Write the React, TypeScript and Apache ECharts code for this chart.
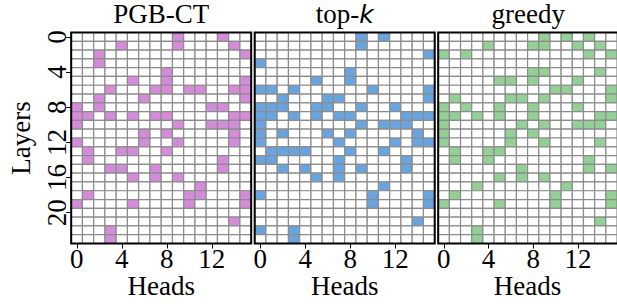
import React, { useEffect, useRef } from "react";
import * as echarts from "echarts";

// ---------- data ----------
const heads = ["0","1","2","3","4","5","6","7","8","9","10","11","12","13","14","15"];
const layers = ["0","1","2","3","4","5","6","7","8","9","10","11","12","13","14","15","16","17","18","19","20","21","22","23"];
const panelTitles = ["PGB-CT", "top-k", "greedy"];
const xAxisName = "Heads";
const yAxisName = "Layers";

// selected heads for each layer (index = layer)
const pgbctSelected: number[][] = [
  [9, 13],
  [4, 9, 14],
  [2, 15],
  [2],
  [8],
  [5, 8, 15],
  [3, 7, 8, 10, 11, 14, 15],
  [2, 6, 15],
  [0, 2, 12, 13],
  [0, 1, 3, 5, 7, 8, 14, 15],
  [0, 9, 12, 13, 14],
  [6, 8, 14],
  [0, 6, 9, 14],
  [1, 4, 5, 8],
  [1, 13],
  [3, 4, 7, 13],
  [5, 7, 9],
  [11],
  [1, 10, 11, 15],
  [0, 5, 10, 15],
  [],
  [14],
  [3],
  [3],
];

const topkSelected: number[][] = [
  [9, 11],
  [9],
  [15],
  [0],
  [8],
  [5, 8],
  [0, 1, 3, 10, 15],
  [2, 6, 7, 15],
  [0, 1, 2, 5, 6, 9, 12],
  [0, 1, 3, 5, 7, 8, 13, 14, 15],
  [0, 9, 11, 12, 13],
  [0, 2, 6, 8, 14],
  [0, 7, 12, 14, 15],
  [1, 2, 3, 4, 8, 11],
  [0, 1, 7, 13],
  [2, 4, 7, 9, 13],
  [5, 7],
  [11],
  [0, 10, 15],
  [10, 15],
  [],
  [14],
  [0, 3],
  [3],
];

const greedySelected: number[][] = [
  [9, 11, 13],
  [4, 8, 9, 12, 14],
  [0, 2, 13, 15],
  [],
  [8, 9, 14],
  [5, 6, 8, 12],
  [10, 11, 15],
  [1, 6, 7, 9, 15],
  [0, 2, 5, 8, 12],
  [0, 1, 3, 5, 8, 14, 15],
  [0, 7, 9, 12, 13, 14],
  [0, 6, 8],
  [0, 6, 9, 14],
  [1, 4, 5],
  [1, 4, 13],
  [7, 13, 15],
  [5, 7, 9],
  [3, 11],
  [1, 10, 15],
  [0, 5, 10, 15],
  [],
  [14],
  [3],
  [3],
];

const panels = [pgbctSelected, topkSelected, greedySelected];
const panelColors = ["#D48BDA", "#67A4E0", "#93D096"];

// ---------- layout / style ----------
const FONT = "Liberation Serif";
const FS = 27;
const TITLE_FS = 27;
const PANEL_TOP = 32.5;
const PANEL_H = 211;
const PANEL_W = 180;
const PANEL_LEFTS = [71.2, 254.7, 438.2];

function buildCells(sel: number[][]) {
  const out: number[][] = [];
  layers.forEach((_, l) => {
    heads.forEach((_, h) => {
      out.push([h, l, sel[l].includes(h) ? 1 : 0]);
    });
  });
  return out;
}

const App = () => {
  const ref = useRef<HTMLDivElement>(null);
  useEffect(() => {
    const chart = echarts.init(ref.current!, null, { renderer: "svg" });

    const grid = PANEL_LEFTS.map((left) => ({
      left,
      top: PANEL_TOP,
      width: PANEL_W,
      height: PANEL_H,
      containLabel: false,
    }));

    const xAxis = PANEL_LEFTS.map((_, i) => ({
      type: "category",
      gridIndex: i,
      data: heads,
      position: "bottom",
      boundaryGap: true,
      axisLine: { show: false },
      axisTick: {
        show: true,
        interval: 3,
        alignWithLabel: true,
        length: 5,
        lineStyle: { color: "#000", width: 1 },
      },
      axisLabel: {
        show: true,
        interval: 3,
        margin: 5.5,
        fontSize: FS,
        lineHeight: 20,
        fontFamily: FONT,
        color: "#000",
      },
      splitLine: { show: false },
      name: xAxisName,
      nameLocation: "middle",
      nameMoveOverlap: false,
      nameGap: 32,
      nameTextStyle: { fontSize: FS, lineHeight: 20, fontFamily: FONT, color: "#000" },
    }));

    const yAxis = PANEL_LEFTS.map((_, i) => ({
      type: "category",
      gridIndex: i,
      data: layers,
      inverse: true,
      boundaryGap: true,
      axisLine: { show: false },
      axisTick: {
        show: i === 0,
        interval: 3,
        alignWithLabel: true,
        length: 5,
        lineStyle: { color: "#000", width: 1 },
      },
      axisLabel: {
        show: i === 0,
        interval: 3,
        rotate: 90,
        margin: 1,
        fontSize: FS,
        fontFamily: FONT,
        color: "#000",
      },
      splitLine: { show: false },
      name: i === 0 ? yAxisName : "",
      nameLocation: "middle",
      nameRotate: 90,
      nameGap: 37,
      nameTextStyle: { fontSize: FS, fontFamily: FONT, color: "#000" },
    }));

    const series = panels.map((sel, i) => ({
      type: "custom",
      xAxisIndex: i,
      yAxisIndex: i,
      encode: { x: 0, y: 1 },
      data: buildCells(sel),
      renderItem: (_params: any, api: any) => {
        const c = api.coord([api.value(0), api.value(1)]);
        const s = api.size([1, 1]);
        return {
          type: "rect",
          shape: { x: c[0] - s[0] / 2, y: c[1] - s[1] / 2, width: s[0], height: s[1] },
          style: {
            fill: api.value(2) ? panelColors[i] : "#ffffff",
            stroke: "#8c8c8c",
            lineWidth: 1.2,
          },
        };
      },
    }));

    const title = panelTitles.map((t, i) => {
      const cx = PANEL_LEFTS[i] + PANEL_W / 2;
      if (t === "top-k") {
        return {
          text: "{a|top-}{b|k}",
          left: cx,
          top: 1,
          padding: 0,
          textAlign: "center",
          textStyle: {
            fontWeight: "normal",
            lineHeight: 26,
            rich: {
              a: { fontSize: TITLE_FS, fontFamily: FONT, color: "#000", fontWeight: "normal", lineHeight: 26 },
              b: { fontSize: 25, fontFamily: "DejaVu Sans", fontStyle: "italic", color: "#000", fontWeight: "normal", lineHeight: 26 },
            },
          },
        };
      }
      return {
        text: t,
        left: cx,
        top: 1,
        padding: 0,
        textAlign: "center",
        textStyle: { fontSize: TITLE_FS, fontFamily: FONT, color: "#000", fontWeight: "normal", lineHeight: 26 },
      };
    });

    const graphic = PANEL_LEFTS.map((left) => ({
      type: "rect",
      z: 100,
      silent: true,
      shape: { x: left, y: PANEL_TOP, width: PANEL_W, height: PANEL_H },
      style: { fill: "none", stroke: "#000", lineWidth: 2 },
    }));

    chart.setOption({
      animation: false,
      backgroundColor: "#fff",
      title,
      grid,
      xAxis,
      yAxis,
      series,
      graphic,
    } as any);
    return () => chart.dispose();
  }, []);
  return (
    <div
      ref={ref}
      style={{ position: "fixed", left: 0, top: 0, width: 617, height: 307, background: "#fff" }}
    />
  );
};

export default App;
